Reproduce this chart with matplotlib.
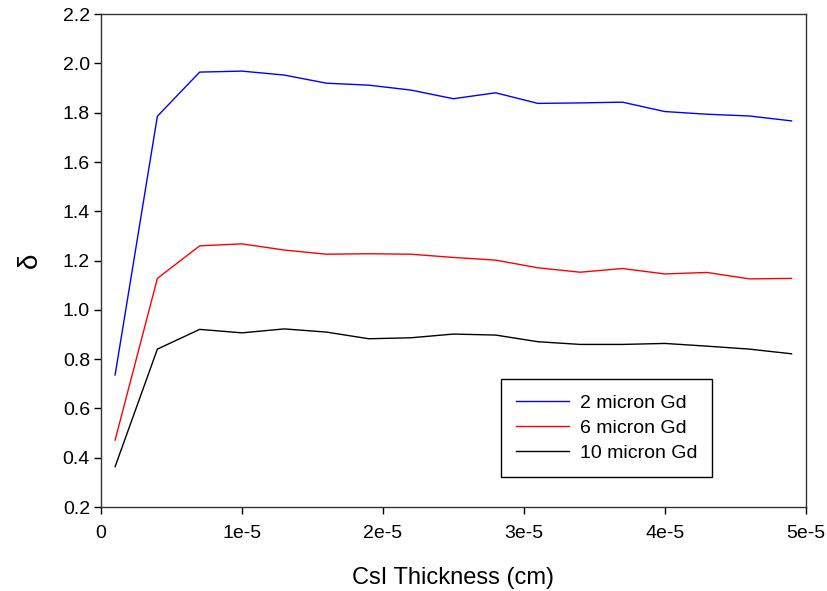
import matplotlib.pyplot as plt

plt.rcParams['font.family'] = ['Liberation Sans', 'DejaVu Sans']

thickness = [1e-6, 4e-6, 7e-6, 1e-5, 1.3e-5, 1.6e-5, 1.9e-5, 2.2e-5, 2.5e-5,
             2.8e-5, 3.1e-5, 3.4e-5, 3.7e-5, 4.0e-5, 4.3e-5, 4.6e-5, 4.9e-5]

gd2 = [0.736, 1.786, 1.965, 1.969, 1.953, 1.920, 1.912, 1.892, 1.857,
       1.881, 1.838, 1.840, 1.843, 1.805, 1.794, 1.787, 1.767]
gd6 = [0.472, 1.128, 1.260, 1.268, 1.243, 1.226, 1.228, 1.226, 1.213,
       1.202, 1.171, 1.153, 1.168, 1.146, 1.152, 1.126, 1.128]
gd10 = [0.364, 0.841, 0.921, 0.907, 0.923, 0.910, 0.883, 0.887, 0.902,
        0.898, 0.871, 0.860, 0.860, 0.864, 0.853, 0.841, 0.822]

xticks = [0, 1e-5, 2e-5, 3e-5, 4e-5, 5e-5]
xtick_labels = ["0", "1e-5", "2e-5", "3e-5", "4e-5", "5e-5"]
yticks = [0.2, 0.4, 0.6, 0.8, 1.0, 1.2, 1.4, 1.6, 1.8, 2.0, 2.2]

fig = plt.figure(figsize=(8.28, 5.91), dpi=100)
ax = fig.add_axes([0.122, 0.142, 0.851, 0.834])

ax.plot(thickness, gd2, color="blue", linewidth=1, label="2 micron Gd")
ax.plot(thickness, gd6, color="red", linewidth=1, label="6 micron Gd")
ax.plot(thickness, gd10, color="black", linewidth=1, label="10 micron Gd")

ax.set_xlim(0, 5e-5)
ax.set_ylim(0.2, 2.2)
ax.set_xticks(xticks)
ax.set_xticklabels(xtick_labels)
ax.set_yticks(yticks)
ax.set_yticklabels([f"{v:.1f}" for v in yticks])
ax.tick_params(direction="out", length=5, width=1, labelsize=14,
               top=False, right=False)
ax.tick_params(axis="y", pad=3)
ax.tick_params(axis="x", pad=8)
for s in ax.spines.values():
    s.set_linewidth(1)
    s.set_color("#333333")

ax.set_xlabel("CsI Thickness (cm)", fontsize=17, labelpad=18)
ax.set_ylabel("δ", fontsize=20, labelpad=14)

leg = ax.legend(loc="upper left", bbox_to_anchor=(0.568, 0.26),
                borderaxespad=0, fancybox=False, framealpha=1,
                edgecolor="black", fontsize=14, handlelength=2.7,
                handletextpad=0.55, labelspacing=0.38, borderpad=0.78)
leg.get_frame().set_linewidth(1)

fig.savefig("out.png", dpi=100)
